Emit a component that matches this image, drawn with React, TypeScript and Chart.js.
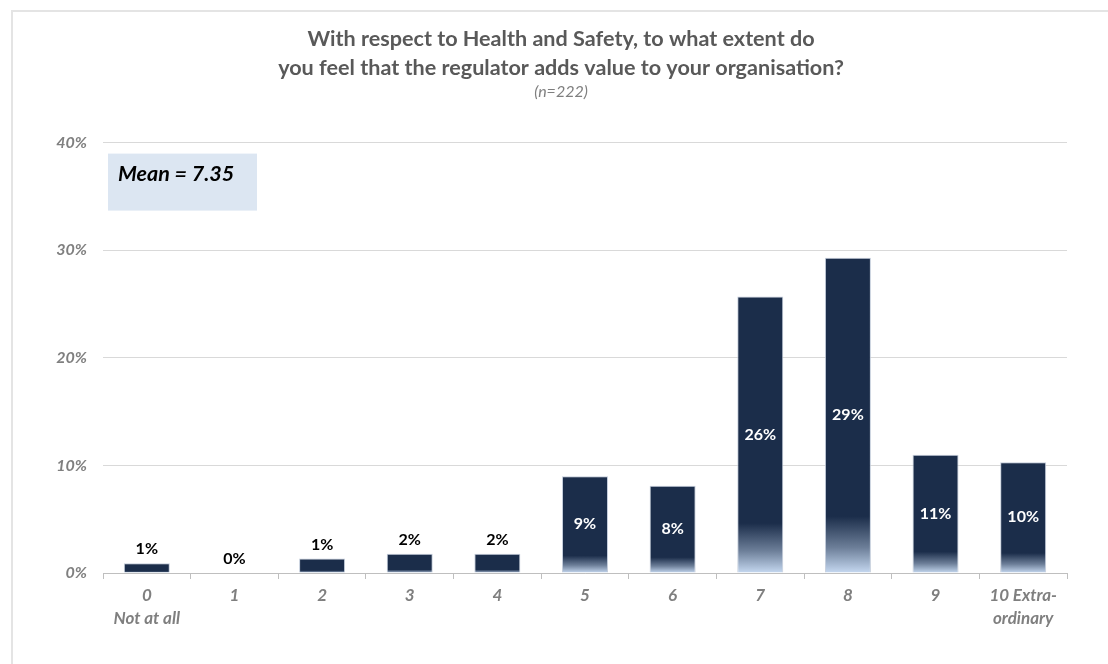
import React, { useEffect, useRef } from "react";
import { Chart, registerables } from "chart.js";

Chart.register(...registerables);

const categories: string[][] = [
  ["0", "Not at all"], ["1"], ["2"], ["3"], ["4"], ["5"], ["6"], ["7"], ["8"], ["9"], ["10 Extra-", "ordinary"],
];
const values: number[] = [0.9, 0, 1.35, 1.8, 1.8, 9.0, 8.1, 25.7, 29.3, 11.0, 10.3];
const yTicks: number[] = [0, 10, 20, 30, 40];
const titleLines: string[] = [
  "With respect to Health and Safety, to what extent do",
  "you feel that the regulator adds value to your organisation?",
];
const subtitleText = "(n=222)";
const meanText = "Mean = 7.35";

const DARK = "#1b2d4a";
const LIGHT = "#c6d9f1";
const FONT = "Lato, 'Open Sans', sans-serif";

const labelPlugin = {
  id: "barLabels",
  afterDatasetsDraw(chart: any) {
    const { ctx } = chart;
    const meta = chart.getDatasetMeta(0);
    ctx.save();
    ctx.font = `bold 16px ${FONT}`;
    ctx.textAlign = "center";
    ctx.textBaseline = "middle";
    meta.data.forEach((bar: any, i: number) => {
      const v = values[i];
      const txt = Math.round(v) + "%";
      if (v >= 5) {
        ctx.fillStyle = "#ffffff";
        ctx.fillText(txt, bar.x, (bar.y + bar.base) / 2);
      } else {
        ctx.fillStyle = "#000000";
        ctx.fillText(txt, bar.x, bar.y - 14);
      }
    });
    ctx.restore();
  },
};

const meanPlugin = {
  id: "meanBox",
  afterDraw(chart: any) {
    const { ctx, chartArea } = chart;
    const x = chartArea.left + 5;
    const y = chartArea.top + 11;
    ctx.save();
    ctx.fillStyle = "#dce6f2";
    ctx.fillRect(x, y, 149, 57);
    ctx.fillStyle = "#000000";
    ctx.font = `italic bold 21.5px ${FONT}`;
    ctx.textAlign = "left";
    ctx.textBaseline = "middle";
    ctx.fillText(meanText, x + 10, y + 20);
    ctx.restore();
  },
};

export default function App() {
  const ref = useRef<HTMLCanvasElement | null>(null);
  useEffect(() => {
    if (!ref.current) return;
    const chart = new Chart(ref.current, {
      type: "bar",
      data: {
        labels: categories,
        datasets: [
          {
            data: values,
            backgroundColor: (c: any) => {
              const ch = c.chart;
              const y = ch.scales?.y;
              if (!ch.chartArea || !y || c.raw == null) return DARK;
              const top = y.getPixelForValue(c.raw);
              const base = y.getPixelForValue(0);
              if (base - top < 1) return DARK;
              const g = ch.ctx.createLinearGradient(0, top, 0, base);
              g.addColorStop(0, DARK);
              g.addColorStop(0.82, DARK);
              g.addColorStop(0.92, "#6d7f99");
              g.addColorStop(1, LIGHT);
              return g;
            },
            borderColor: "rgba(190,200,215,0.9)",
            borderWidth: 1,
            barPercentage: 0.525,
            categoryPercentage: 1,
          },
        ],
      },
      options: {
        animation: false,
        responsive: true,
        maintainAspectRatio: false,
        layout: { padding: { left: 42, right: 41, top: 0, bottom: 0 } },
        plugins: {
          legend: { display: false },
          tooltip: { enabled: false },
          title: {
            display: true,
            text: titleLines,
            color: "#595959",
            font: { family: FONT, size: 21.6, weight: "bold", lineHeight: 1.34 },
            padding: { top: 12.5, bottom: 0 },
          },
          subtitle: {
            display: true,
            text: subtitleText,
            color: "#7f7f7f",
            font: { family: FONT, size: 16, style: "italic", lineHeight: 1.2 },
            padding: { top: 0, bottom: 41 },
          },
        },
        scales: {
          x: {
            grid: {
              display: true,
              offset: true,
              drawOnChartArea: false,
              drawTicks: true,
              tickLength: 6,
              color: "#bfbfbf",
            },
            border: { display: true, color: "#bfbfbf", width: 1 },
            ticks: {
              color: "#7f7f7f",
              font: { family: FONT, size: 17, weight: "bold", style: "italic", lineHeight: 1.35 },
              padding: 5,
              maxRotation: 0,
              autoSkip: false,
            },
            afterFit: (s: any) => {
              s.height = 91;
            },
          },
          y: {
            min: 0,
            max: 40,
            afterBuildTicks: (s: any) => {
              s.ticks = yTicks.map((v) => ({ value: v }));
            },
            grid: { color: "#d9d9d9", drawTicks: false },
            border: { display: false },
            ticks: {
              color: "#7f7f7f",
              font: { family: FONT, size: 16, weight: "bold", style: "italic" },
              padding: 16,
              callback: (v: any) => v + "%",
            },
            afterFit: (s: any) => {
              s.width = 48;
            },
          },
        },
      },
      plugins: [labelPlugin, meanPlugin],
    } as any);
    return () => chart.destroy();
  }, []);

  return (
    <div style={{ position: "fixed", left: 0, top: 0, width: 1108, height: 664, background: "#fff", overflow: "hidden" }}>
      <div
        style={{
          position: "absolute",
          left: 11,
          top: 10,
          width: 1200,
          height: 800,
          borderTop: "2px solid #e4e4e4",
          borderLeft: "2px solid #e4e4e4",
        }}
      />
      <div style={{ position: "absolute", left: 13, top: 12, width: 1095, height: 652 }}>
        <canvas ref={ref} />
      </div>
    </div>
  );
}
